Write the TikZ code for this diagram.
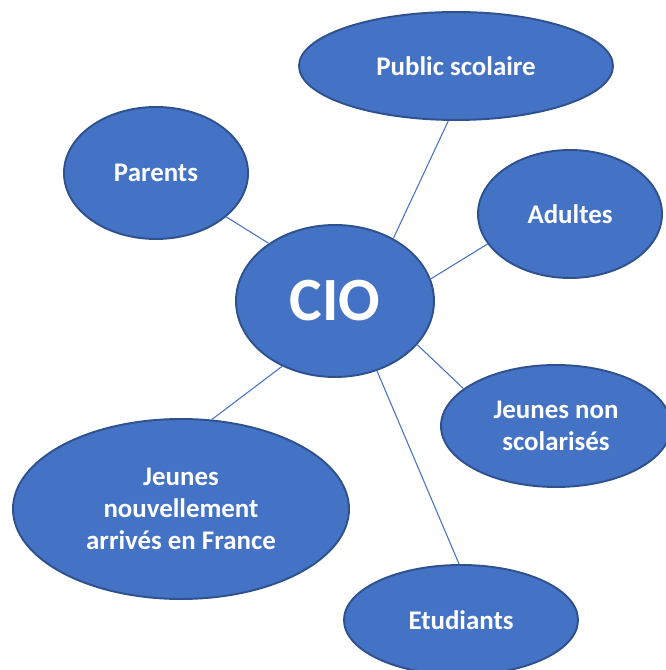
\documentclass[tikz,border=0pt]{standalone}
\usepackage{fontspec}
\setmainfont{Carlito}
\usetikzlibrary{shapes.geometric}
\definecolor{bulle}{HTML}{4472C4}
\definecolor{bord}{HTML}{2F528F}
\tikzset{
  bubble/.style={ellipse, fill=bulle, draw=bord, line width=1.1pt, inner sep=0pt,
    text=white, align=center, font=\fontsize{15.3}{18.3}\selectfont\bfseries},
  lien/.style={draw=bulle, line width=0.6pt}
}
\begin{document}
\begin{tikzpicture}
   \useasboundingbox (0,0) rectangle (13.3,13.4);

   \node[bubble, minimum width=3.96cm, minimum height=3.04cm,
         font=\fontsize{35}{40}\selectfont\bfseries] (cio) at (6.70,7.38) {CIO};
   \node[bubble, minimum width=6.28cm, minimum height=2.16cm] (pub) at (9.12,12.08) {Public scolaire};
   \node[bubble, minimum width=3.68cm, minimum height=2.64cm] (par) at (3.12,9.94) {Parents};
   \node[bubble, minimum width=3.68cm, minimum height=2.56cm] (adu) at (11.40,9.12) {Adultes};
   \node[bubble, minimum width=4.60cm, minimum height=2.44cm] (jnon) at (11.12,4.88) {Jeunes non\\scolarisés};
   \node[bubble, minimum width=6.72cm, minimum height=3.60cm] (jnou) at (3.62,3.22) {Jeunes\\nouvellement\\arrivés en France};
   \node[bubble, minimum width=4.68cm, minimum height=2.20cm] (etu) at (9.22,1.00) {Etudiants};

   \draw[lien] (cio.139.6) -- (par.328.6);
   \draw[lien] (cio.47) -- (pub.262);
   \draw[lien] (cio.13) -- (adu.200);
   \draw[lien] (cio.332) -- (jnon.158);
   \draw[lien] (cio.301) -- (etu.92);
   \draw[lien] (cio.231) -- (jnou.71);
\end{tikzpicture}
\end{document}
